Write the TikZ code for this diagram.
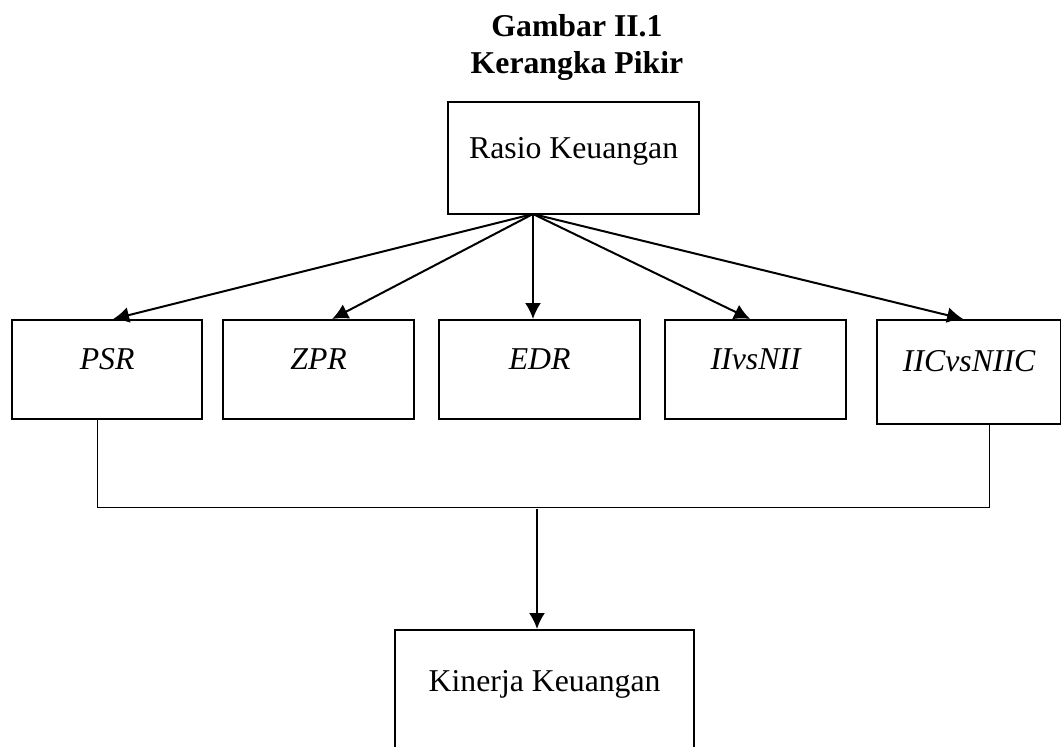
\documentclass[tikz,border=0pt]{standalone}
\usepackage{fontspec}
\setmainfont{Liberation Serif}
\usetikzlibrary{arrows.meta}

\begin{document}
\begin{tikzpicture}[x=0.4pt,y=-0.4pt,>={Latex[length=6.4pt,width=6.4pt]},
  kotak/.style={draw,line width=0.9pt,anchor=north west,inner sep=0pt,
    font=\fontsize{12.7}{15.2}\selectfont},
  panah/.style={->,line width=0.8pt},
  garis/.style={line width=0.4pt}]
\useasboundingbox (0,0) rectangle (1061,747);
\begin{scope}
\clip (0,0) rectangle (1061,747);

\node[anchor=base,font=\fontsize{12.7}{15.2}\selectfont\bfseries] (judul1) at (577,36) {Gambar II.1};
\node[anchor=base,font=\fontsize{12.7}{15.2}\selectfont\bfseries] (judul2) at (577,73) {Kerangka Pikir};

\node[kotak,minimum width=100.4pt,text height=22.4pt,text depth=22.4pt] (rasio) at (447,101) {Rasio Keuangan};

\node[kotak,minimum width=76pt,text height=19.6pt,text depth=20pt] (psr) at (11,319) {\itshape PSR};
\node[kotak,minimum width=76.4pt,text height=19.6pt,text depth=20pt] (zpr) at (222,319) {\itshape ZPR};
\node[kotak,minimum width=80.4pt,text height=19.6pt,text depth=20pt] (edr) at (438,319) {\itshape EDR};
\node[kotak,minimum width=72.4pt,text height=19.6pt,text depth=20pt] (iinii) at (664,319) {\itshape IIvsNII};
\node[kotak,minimum width=73.6pt,text height=20.4pt,text depth=21.2pt] (iicniic) at (876,319) {\itshape IICvsNIIC};

\node[kotak,minimum width=119.6pt,text height=24.4pt,text depth=32pt] (kinerja) at (394,629) {Kinerja Keuangan};

\coordinate (pusat) at (533,214);
\draw[panah] (pusat) -- ([xshift=2.4pt]psr.north);
\draw[panah] (pusat) -- ([xshift=5.4pt]zpr.north);
\draw[panah] (pusat) -- (pusat |- edr.north);
\draw[panah] (pusat) -- ([xshift=-2.2pt]iinii.north);
\draw[panah] (pusat) -- ([xshift=-2.4pt]iicniic.north);

\coordinate (kiri) at (97,507);
\coordinate (kanan) at (989,507);
\coordinate (tengah) at (537,509);
\draw[garis] (psr.south -| kiri) -- (kiri) -- (kanan) -- (iicniic.south -| kanan);
\draw[panah] (tengah) -- (tengah |- kinerja.north);
\end{scope}
\end{tikzpicture}
\end{document}
